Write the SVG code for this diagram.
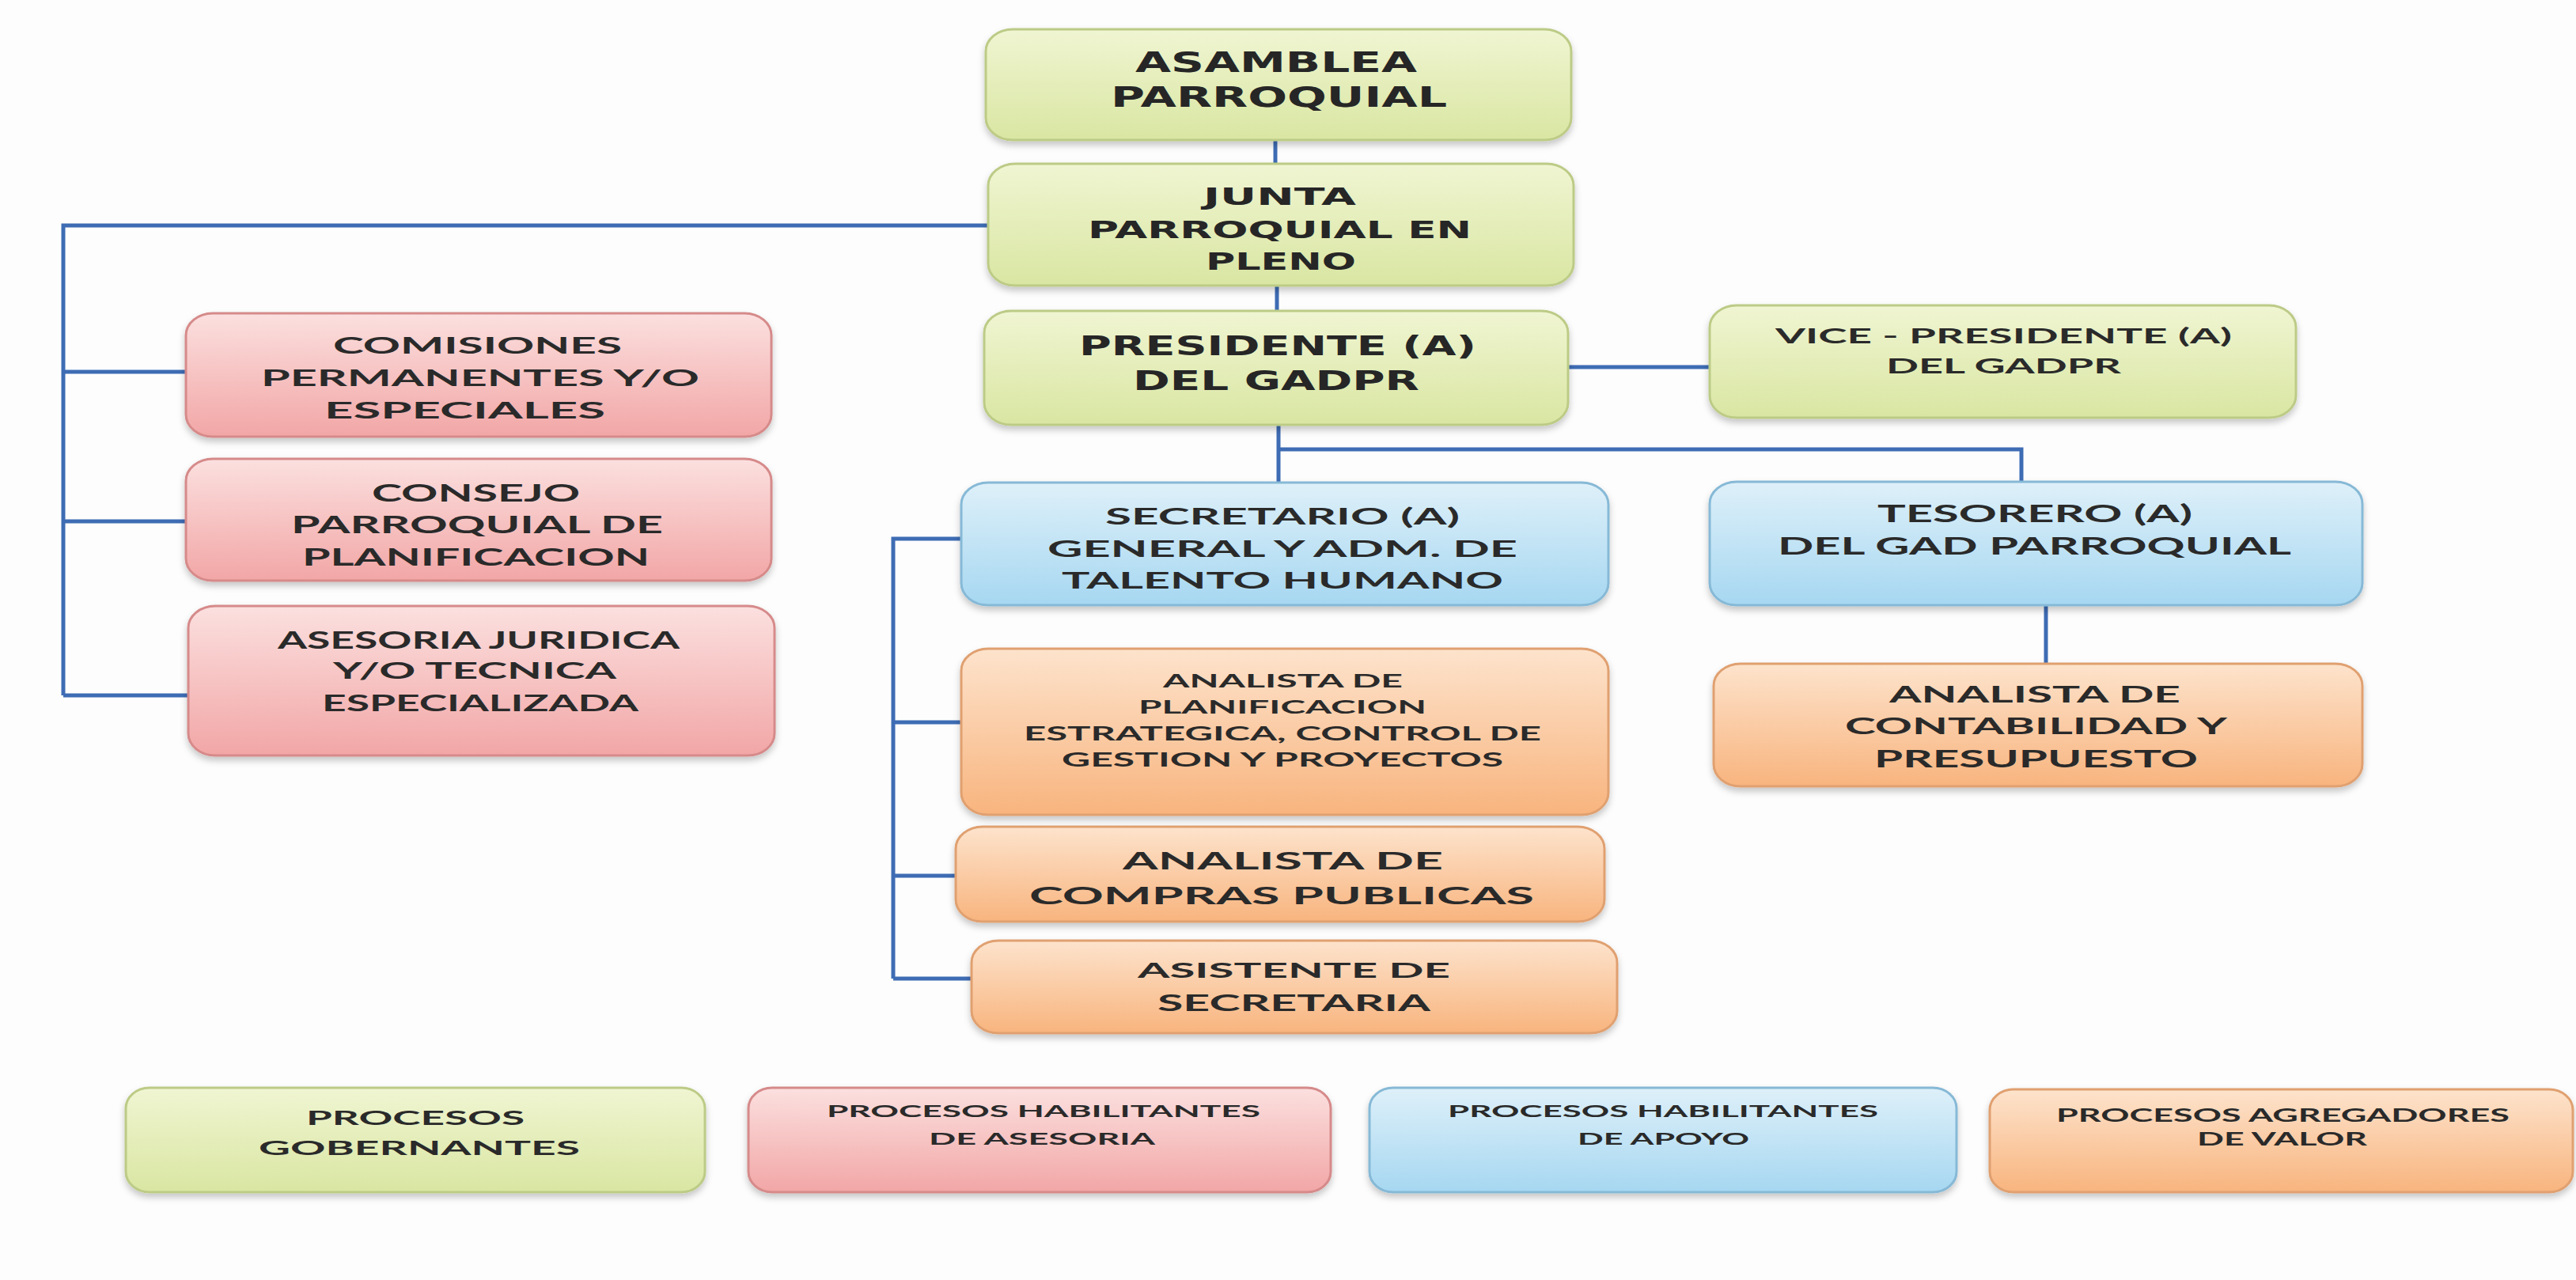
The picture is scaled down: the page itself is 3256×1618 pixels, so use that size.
<svg xmlns="http://www.w3.org/2000/svg" width="3256" height="1618" viewBox="0 0 3256 1618">
<defs>
<linearGradient id="gGreen" x1="0" y1="0" x2="0" y2="1"><stop offset="0" stop-color="#f0f5d2"/><stop offset="1" stop-color="#d9e6a2"/></linearGradient>
<linearGradient id="gPink" x1="0" y1="0" x2="0" y2="1"><stop offset="0" stop-color="#fbe0df"/><stop offset="1" stop-color="#f2a6a6"/></linearGradient>
<linearGradient id="gBlue" x1="0" y1="0" x2="0" y2="1"><stop offset="0" stop-color="#def0f9"/><stop offset="1" stop-color="#a6d7f1"/></linearGradient>
<linearGradient id="gOrange" x1="0" y1="0" x2="0" y2="1"><stop offset="0" stop-color="#fde3cc"/><stop offset="1" stop-color="#f8b47e"/></linearGradient>
<filter id="sh" x="-5%" y="-10%" width="110%" height="130%"><feDropShadow dx="0" dy="5" stdDeviation="4" flood-color="#000" flood-opacity="0.22"/></filter>
</defs>
<style>
.box{filter:url(#sh);stroke-width:3}
.green{fill:url(#gGreen);stroke:#bccb86}
.pink{fill:url(#gPink);stroke:#d68a8a}
.blue{fill:url(#gBlue);stroke:#86b9d6}
.orange{fill:url(#gOrange);stroke:#e0a070}
.t{fill:#2a2a2a;font-weight:bold;font-family:Lato,"Liberation Sans",sans-serif}
.tw{fill:#262626;font-weight:bold;font-family:"DejaVu Sans","Liberation Sans",sans-serif}
.conn{fill:none;stroke:#3e6cb4;stroke-width:5}
</style>
<rect width="3256" height="1618" fill="#fdfdfd"/>

<g id="connectors" class="conn">
<path d="M1612 177V207"/>
<path d="M1614 361V393"/>
<path d="M1249 285H80V879"/>
<path d="M80 470H235"/>
<path d="M80 659H235"/>
<path d="M80 879H238"/>
<path d="M1982 464H2161"/>
<path d="M1616 537V609"/>
<path d="M1616 568H2555V609"/>
<path d="M2586 765V839"/>
<path d="M1215 681H1129V1237"/>
<path d="M1129 913H1215"/>
<path d="M1129 1107H1208"/>
<path d="M1129 1237H1228"/>
</g>

<g id="asamblea">
<rect class="box green" x="1246" y="37" width="740" height="140" rx="34" ry="28"/>
<text class="tw" font-size="35" x="1435" y="91" textLength="356" lengthAdjust="spacingAndGlyphs">ASAMBLEA</text>
<text class="tw" font-size="35" x="1404" y="135" textLength="425" lengthAdjust="spacingAndGlyphs">PARROQUIAL</text>
</g>

<g id="junta">
<rect class="box green" x="1249" y="207" width="740" height="154" rx="34" ry="28"/>
<text class="tw" font-size="31" x="1521" y="259" textLength="193" lengthAdjust="spacingAndGlyphs">JUNTA</text>
<text class="tw" font-size="31" x="1375" y="301" textLength="485" lengthAdjust="spacingAndGlyphs">PARROQUIAL EN</text>
<text class="tw" font-size="31" x="1524" y="341" textLength="190" lengthAdjust="spacingAndGlyphs">PLENO</text>
</g>

<g id="presidente">
<rect class="box green" x="1244" y="393" width="738" height="144" rx="34" ry="28"/>
<text class="tw" font-size="33" x="1364" y="449" textLength="502" lengthAdjust="spacingAndGlyphs">PRESIDENTE (A)</text>
<text class="tw" font-size="34" x="1432" y="493" textLength="362" lengthAdjust="spacingAndGlyphs">DEL GADPR</text>
</g>

<g id="vice">
<rect class="box green" x="2161" y="386" width="741" height="142" rx="34" ry="28"/>
<text class="t" font-size="27" x="2244" y="434" textLength="577" lengthAdjust="spacingAndGlyphs">VICE - PRESIDENTE (A)</text>
<text class="t" font-size="27" x="2384" y="472" textLength="297" lengthAdjust="spacingAndGlyphs">DEL GADPR</text>
</g>

<g id="secretario">
<rect class="box blue" x="1215" y="610" width="818" height="155" rx="34" ry="28"/>
<text class="t" font-size="28" x="1397" y="663" textLength="448" lengthAdjust="spacingAndGlyphs">SECRETARIO (A)</text>
<text class="t" font-size="28" x="1324" y="704" textLength="594" lengthAdjust="spacingAndGlyphs">GENERAL Y ADM. DE</text>
<text class="t" font-size="28" x="1342" y="744" textLength="558" lengthAdjust="spacingAndGlyphs">TALENTO HUMANO</text>
</g>

<g id="tesorero">
<rect class="box blue" x="2161" y="609" width="825" height="156" rx="34" ry="28"/>
<text class="t" font-size="30" x="2373" y="660" textLength="398" lengthAdjust="spacingAndGlyphs">TESORERO (A)</text>
<text class="t" font-size="30" x="2247" y="701" textLength="649" lengthAdjust="spacingAndGlyphs">DEL GAD PARROQUIAL</text>
</g>

<g id="analista-planificacion">
<rect class="box orange" x="1215" y="820" width="818" height="210" rx="34" ry="28"/>
<text class="t" font-size="23" x="1470" y="869" textLength="303" lengthAdjust="spacingAndGlyphs">ANALISTA DE</text>
<text class="t" font-size="23" x="1439" y="902" textLength="364" lengthAdjust="spacingAndGlyphs">PLANIFICACION</text>
<text class="t" font-size="24" x="1294" y="936" textLength="654" lengthAdjust="spacingAndGlyphs">ESTRATEGICA, CONTROL DE</text>
<text class="t" font-size="24" x="1342" y="969" textLength="558" lengthAdjust="spacingAndGlyphs">GESTION Y  PROYECTOS</text>
</g>

<g id="analista-contabilidad">
<rect class="box orange" x="2166" y="839" width="820" height="155" rx="34" ry="28"/>
<text class="t" font-size="28" x="2388" y="888" textLength="368" lengthAdjust="spacingAndGlyphs">ANALISTA DE</text>
<text class="t" font-size="28" x="2332" y="928" textLength="483" lengthAdjust="spacingAndGlyphs">CONTABILIDAD Y</text>
<text class="t" font-size="30" x="2369" y="970" textLength="409" lengthAdjust="spacingAndGlyphs">PRESUPUESTO</text>
</g>

<g id="analista-compras">
<rect class="box orange" x="1208" y="1045" width="820" height="120" rx="34" ry="28"/>
<text class="t" font-size="31" x="1419" y="1099" textLength="405" lengthAdjust="spacingAndGlyphs">ANALISTA DE</text>
<text class="t" font-size="31" x="1301" y="1143" textLength="638" lengthAdjust="spacingAndGlyphs">COMPRAS PUBLICAS</text>
</g>

<g id="asistente">
<rect class="box orange" x="1228" y="1189" width="816" height="117" rx="34" ry="28"/>
<text class="t" font-size="27" x="1438" y="1236" textLength="395" lengthAdjust="spacingAndGlyphs">ASISTENTE DE</text>
<text class="t" font-size="28" x="1463" y="1278" textLength="345" lengthAdjust="spacingAndGlyphs">SECRETARIA</text>
</g>

<g id="comisiones">
<rect class="box pink" x="235" y="396" width="740" height="156" rx="34" ry="28"/>
<text class="t" font-size="28" x="421" y="447" textLength="365" lengthAdjust="spacingAndGlyphs">COMISIONES</text>
<text class="t" font-size="28" x="330" y="488" textLength="554" lengthAdjust="spacingAndGlyphs">PERMANENTES Y/O</text>
<text class="t" font-size="28" x="410" y="529" textLength="355" lengthAdjust="spacingAndGlyphs">ESPECIALES</text>
</g>

<g id="consejo">
<rect class="box pink" x="235" y="580" width="740" height="154" rx="34" ry="28"/>
<text class="t" font-size="30" x="470" y="634" textLength="263" lengthAdjust="spacingAndGlyphs">CONSEJO</text>
<text class="t" font-size="30" x="368" y="674" textLength="470" lengthAdjust="spacingAndGlyphs">PARROQUIAL DE</text>
<text class="t" font-size="30" x="382" y="715" textLength="439" lengthAdjust="spacingAndGlyphs">PLANIFICACION</text>
</g>

<g id="asesoria">
<rect class="box pink" x="238" y="766" width="741" height="189" rx="34" ry="28"/>
<text class="t" font-size="30" x="351" y="820" textLength="508" lengthAdjust="spacingAndGlyphs">ASESORIA JURIDICA</text>
<text class="t" font-size="28" x="421" y="858" textLength="358" lengthAdjust="spacingAndGlyphs">Y/O TECNICA</text>
<text class="t" font-size="28" x="407" y="899" textLength="400" lengthAdjust="spacingAndGlyphs">ESPECIALIZADA</text>
</g>

<g id="legend-gobernantes">
<rect class="box green" x="159" y="1375" width="732" height="132" rx="30" ry="26"/>
<text class="t" font-size="25" x="387" y="1422" textLength="276" lengthAdjust="spacingAndGlyphs">PROCESOS</text>
<text class="t" font-size="25" x="327" y="1460" textLength="406" lengthAdjust="spacingAndGlyphs">GOBERNANTES</text>
</g>

<g id="legend-asesoria">
<rect class="box pink" x="946" y="1375" width="736" height="132" rx="30" ry="26"/>
<text class="t" font-size="21" x="1045" y="1412" textLength="548" lengthAdjust="spacingAndGlyphs">PROCESOS HABILITANTES</text>
<text class="t" font-size="21" x="1174" y="1447" textLength="286" lengthAdjust="spacingAndGlyphs">DE ASESORIA</text>
</g>

<g id="legend-apoyo">
<rect class="box blue" x="1731" y="1375" width="742" height="132" rx="30" ry="26"/>
<text class="t" font-size="21" x="1830" y="1412" textLength="544" lengthAdjust="spacingAndGlyphs">PROCESOS HABILITANTES</text>
<text class="t" font-size="21" x="1994" y="1447" textLength="217" lengthAdjust="spacingAndGlyphs">DE APOYO</text>
</g>

<g id="legend-agregadores">
<rect class="box orange" x="2515" y="1377" width="737" height="130" rx="30" ry="26"/>
<text class="t" font-size="22" x="2599" y="1418" textLength="573" lengthAdjust="spacingAndGlyphs">PROCESOS  AGREGADORES</text>
<text class="t" font-size="22" x="2777" y="1448" textLength="215" lengthAdjust="spacingAndGlyphs">DE VALOR</text>
</g>
</svg>
